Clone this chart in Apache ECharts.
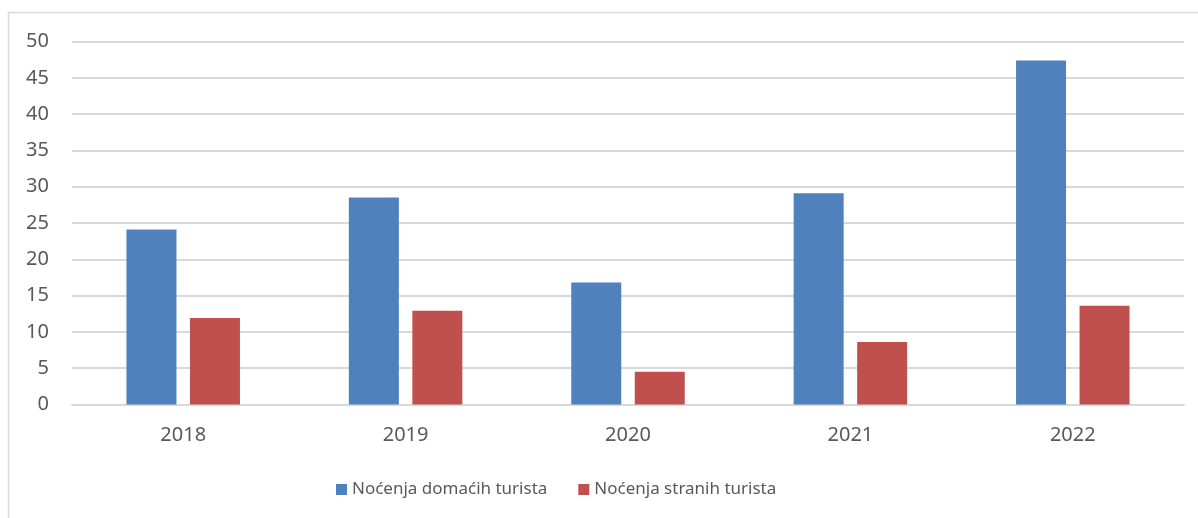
<!DOCTYPE html>
<html>
<head>
<meta charset="utf-8">
<script src="https://cdn.jsdelivr.net/npm/echarts@6/dist/echarts.min.js"></script>
<style>
    html, body { margin: 0; padding: 0; background: #fff; }
    #chart { width: 1198px; height: 518px; }
</style>
</head>
<body>
<div id="chart"></div>
<script>
// podaci
const years = ["2018", "2019", "2020", "2021", "2022"];
const domaci = [24.1, 28.5, 16.8, 29.1, 47.4];
const strani = [11.9, 12.9, 4.5, 8.6, 13.6];
const seriesNames = ["Noćenja domaćih turista", "Noćenja stranih turista"];

const textColor = "#595959";
const gridColor = "#D9D9D9";
const fontFamily = "'Noto Sans', sans-serif";

const chart = echarts.init(document.getElementById("chart"));

chart.setOption({
    animation: false,
    backgroundColor: "#fff",
    textStyle: { fontFamily: fontFamily },
    // okvir
    graphic: [
        {
            type: "rect",
            shape: { x: 8.5, y: 12.5, width: 1200, height: 520 },
            style: { fill: "none", stroke: gridColor, lineWidth: 1.5 },
            silent: true
        }
    ],
    grid: {
        left: 72,
        right: 14,
        top: 41.5,
        bottom: 113.5,
        containLabel: false
    },
    legend: {
        left: 336,
        top: 481,
        padding: 0,
        itemWidth: 11,
        itemHeight: 11,
        itemGap: 31,
        icon: "rect",
        textStyle: {
            color: textColor,
            fontSize: 17,
            fontFamily: fontFamily
        },
        data: seriesNames
    },
    xAxis: {
        type: "category",
        data: years,
        axisLine: { lineStyle: { color: gridColor, width: 2 } },
        axisTick: { show: false },
        axisLabel: {
            color: textColor,
            fontSize: 20,
            margin: 21
        }
    },
    yAxis: {
        type: "value",
        min: 0,
        max: 50,
        interval: 5,
        axisLine: { show: false },
        axisTick: { show: false },
        axisLabel: {
            color: textColor,
            fontSize: 20,
            margin: 23
        },
        splitLine: {
            lineStyle: { color: gridColor, width: 2 }
        }
    },
    series: [
        {
            name: seriesNames[0],
            type: "bar",
            data: domaci,
            barWidth: 50,
            barGap: "27%",
            itemStyle: { color: "#4F81BD" }
        },
        {
            name: seriesNames[1],
            type: "bar",
            data: strani,
            barWidth: 50,
            barGap: "27%",
            itemStyle: { color: "#C0504D" }
        }
    ]
});
</script>
</body>
</html>
